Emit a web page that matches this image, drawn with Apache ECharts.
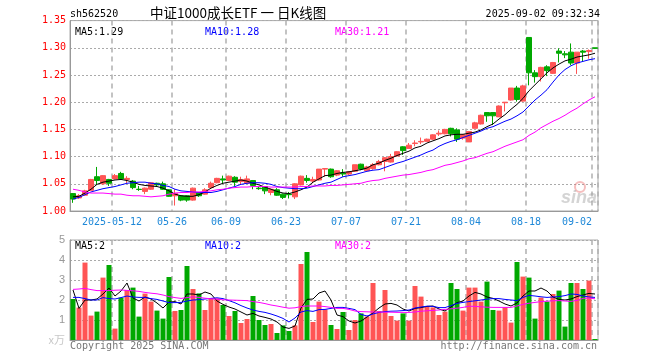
<!DOCTYPE html>
<html><head><meta charset="utf-8">
<script src="https://cdn.jsdelivr.net/npm/echarts@6/dist/echarts.min.js"></script>
<style>html,body{margin:0;padding:0;background:#fff}#c{width:660px;height:360px}</style>
</head><body><div id="c"></div>
<script>
const dates = ['2025-04-28','2025-04-29','2025-04-30','2025-05-06','2025-05-07','2025-05-08','2025-05-09','2025-05-12','2025-05-13','2025-05-14','2025-05-15','2025-05-16','2025-05-19','2025-05-20','2025-05-21','2025-05-22','2025-05-23','2025-05-26','2025-05-27','2025-05-28','2025-05-29','2025-05-30','2025-06-03','2025-06-04','2025-06-05','2025-06-06','2025-06-09','2025-06-10','2025-06-11','2025-06-12','2025-06-13','2025-06-16','2025-06-17','2025-06-18','2025-06-19','2025-06-20','2025-06-23','2025-06-24','2025-06-25','2025-06-26','2025-06-27','2025-06-30','2025-07-01','2025-07-02','2025-07-03','2025-07-04','2025-07-07','2025-07-08','2025-07-09','2025-07-10','2025-07-11','2025-07-14','2025-07-15','2025-07-16','2025-07-17','2025-07-18','2025-07-21','2025-07-22','2025-07-23','2025-07-24','2025-07-25','2025-07-28','2025-07-29','2025-07-30','2025-07-31','2025-08-01','2025-08-04','2025-08-05','2025-08-06','2025-08-07','2025-08-08','2025-08-11','2025-08-12','2025-08-13','2025-08-14','2025-08-15','2025-08-18','2025-08-19','2025-08-20','2025-08-21','2025-08-22','2025-08-25','2025-08-26','2025-08-27','2025-08-28','2025-08-29','2025-09-01','2025-09-02'];

const tickDates = ['2025-05-12','2025-05-26','2025-06-09','2025-06-23','2025-07-07','2025-07-21','2025-08-04','2025-08-18','2025-09-02'];
const tickLabels = ['2025-05-12','05-26','06-09','06-23','07-07','07-21','08-04','08-18','09-02'];

const opens = [1.032,1.024,1.029,1.038,1.063,1.050,1.058,1.059,1.069,1.058,
1.055,1.040,1.036,1.040,1.051,1.050,1.039,1.028,1.028,1.028,
1.020,1.034,1.031,1.043,1.052,1.059,1.056,1.062,1.054,1.051,
1.056,1.042,1.045,1.034,1.039,1.031,1.031,1.026,1.048,1.060,
1.055,1.057,1.077,1.077,1.066,1.070,1.068,1.073,1.086,1.074,
1.078,1.085,1.091,1.090,1.101,1.118,1.115,1.124,1.127,1.128,
1.132,1.1415,1.142,1.152,1.149,1.134,1.127,1.152,1.160,1.181,
1.181,1.173,1.199,1.204,1.226,1.202,1.319,1.254,1.247,1.265,
1.253,1.294,1.289,1.292,1.272,1.294,1.293,1.300];
const closes = [1.022,1.028,1.037,1.058,1.056,1.065,1.051,1.065,1.059,1.060,
1.043,1.0395,1.042,1.052,1.048,1.040,1.027,1.032,1.020,1.020,
1.042,1.028,1.039,1.051,1.060,1.057,1.064,1.053,1.058,1.059,
1.047,1.041,1.037,1.040,1.029,1.025,1.030,1.050,1.064,1.056,
1.058,1.077,1.078,1.063,1.074,1.068,1.072,1.085,1.077,1.081,
1.085,1.091,1.098,1.100,1.109,1.111,1.121,1.125,1.128,1.132,
1.140,1.143,1.150,1.142,1.132,1.140,1.146,1.162,1.176,1.175,
1.175,1.193,1.200,1.226,1.205,1.230,1.254,1.247,1.264,1.258,
1.273,1.290,1.287,1.272,1.292,1.292,1.295,1.299];
const lows = [1.015,1.022,1.028,1.037,1.048,1.048,1.046,1.058,1.057,1.051,
1.040,1.037,1.031,1.039,1.046,1.039,1.026,1.010,1.018,1.017,
1.019,1.026,1.030,1.042,1.051,1.051,1.055,1.046,1.048,1.050,
1.040,1.039,1.031,1.029,1.028,1.022,1.023,1.022,1.047,1.052,
1.051,1.056,1.063,1.061,1.064,1.063,1.066,1.072,1.075,1.074,
1.076,1.084,1.073,1.089,1.100,1.103,1.115,1.119,1.123,1.128,
1.131,1.138,1.141,1.137,1.127,1.131,1.127,1.152,1.159,1.164,
1.158,1.173,1.183,1.203,1.201,1.201,1.231,1.236,1.238,1.248,
1.252,1.273,1.281,1.268,1.252,1.274,1.280,1.298];
const highs = [1.033,1.031,1.039,1.059,1.081,1.066,1.059,1.068,1.072,1.064,
1.057,1.046,1.043,1.053,1.052,1.054,1.040,1.040,1.029,1.029,
1.043,1.035,1.042,1.054,1.061,1.065,1.065,1.064,1.063,1.065,
1.057,1.045,1.046,1.041,1.042,1.032,1.035,1.051,1.065,1.066,
1.063,1.077,1.079,1.078,1.075,1.077,1.073,1.085,1.087,1.083,
1.088,1.094,1.099,1.105,1.110,1.119,1.125,1.130,1.135,1.133,
1.141,1.148,1.151,1.153,1.152,1.141,1.147,1.164,1.177,1.181,
1.181,1.194,1.200,1.226,1.230,1.232,1.319,1.259,1.265,1.268,
1.274,1.299,1.294,1.308,1.292,1.296,1.297,1.300];

const ma5 = [1.026,1.027,1.033,1.040,1.049,1.053,1.055,1.057,1.058,1.056,
1.053,1.049,1.047,1.046,1.045,1.042,1.037,1.031,1.028,1.027,
1.027,1.030,1.035,1.042,1.047,1.051,1.053,1.055,1.057,1.055,
1.051,1.048,1.044,1.040,1.036,1.033,1.032,1.035,1.039,1.044,
1.053,1.059,1.065,1.066,1.069,1.071,1.072,1.074,1.076,1.079,
1.085,1.088,1.093,1.097,1.102,1.106,1.110,1.116,1.119,1.125,
1.129,1.133,1.138,1.140,1.141,1.141,1.143,1.145,1.149,1.155,
1.160,1.169,1.177,1.187,1.196,1.207,1.221,1.232,1.243,1.254,
1.263,1.270,1.276,1.279,1.283,1.285,1.287,1.290];
const ma10 = [1.022,1.025,1.030,1.035,1.038,1.041,1.043,1.045,1.048,1.051,
1.052,1.053,1.053,1.051,1.050,1.047,1.045,1.040,1.037,1.036,
1.035,1.034,1.034,1.034,1.036,1.039,1.042,1.045,1.049,1.051,
1.052,1.052,1.051,1.049,1.045,1.043,1.042,1.041,1.041,1.042,
1.045,1.048,1.051,1.053,1.058,1.063,1.065,1.067,1.070,1.073,
1.075,1.076,1.080,1.084,1.088,1.091,1.095,1.099,1.103,1.108,
1.112,1.119,1.124,1.128,1.131,1.135,1.139,1.143,1.147,1.152,
1.155,1.160,1.165,1.169,1.175,1.182,1.193,1.204,1.213,1.223,
1.237,1.250,1.260,1.267,1.272,1.275,1.278,1.280];
const ma30 = [1.040,1.038,1.035,1.033,1.033,1.033,1.032,1.031,1.031,1.029,
1.028,1.028,1.027,1.026,1.027,1.028,1.031,1.033,1.034,1.034,
1.035,1.035,1.036,1.037,1.039,1.040,1.042,1.043,1.044,1.044,
1.045,1.045,1.045,1.044,1.044,1.044,1.044,1.044,1.045,1.045,
1.046,1.046,1.046,1.047,1.047,1.048,1.049,1.050,1.051,1.054,
1.056,1.057,1.060,1.062,1.064,1.066,1.067,1.069,1.071,1.074,
1.076,1.080,1.084,1.086,1.089,1.092,1.096,1.098,1.102,1.106,
1.109,1.114,1.119,1.123,1.127,1.131,1.139,1.145,1.153,1.159,
1.165,1.170,1.176,1.183,1.189,1.197,1.204,1.210];

const volumes = [2.05,1.62,3.87,1.22,1.42,3.12,3.75,0.57,2.12,2.50,
2.62,1.17,2.32,1.92,1.47,1.07,3.15,1.45,1.50,3.70,
2.55,2.33,1.50,2.08,2.08,1.75,1.20,1.45,0.85,1.05,
2.20,1.00,0.75,0.80,0.35,0.73,0.45,0.73,3.80,4.40,
0.90,1.92,1.53,0.75,0.55,1.40,0.50,1.00,1.33,1.17,
2.85,1.45,2.50,1.20,0.97,1.33,0.97,2.70,2.17,1.67,
1.63,1.25,1.42,2.85,2.55,1.47,2.62,2.62,1.92,2.92,
1.50,1.47,1.63,0.87,3.90,3.17,3.12,1.07,2.12,1.92,
2.30,2.47,0.67,2.85,2.85,2.55,2.97,0.05];
const volMa5 = [2.50,1.58,2.00,2.00,2.05,2.30,2.60,2.20,2.45,2.85,
2.10,1.95,2.15,2.05,1.85,1.60,1.90,1.92,1.80,2.30,
2.30,2.25,2.40,2.30,1.95,1.78,1.65,1.55,1.40,1.25,
1.33,1.20,1.13,1.05,0.90,0.65,0.58,0.70,1.60,2.03,
2.05,2.35,2.45,2.00,1.25,1.17,0.95,0.85,0.95,1.15,
1.35,1.60,1.80,1.83,1.75,1.55,1.45,1.58,1.62,1.68,
1.70,1.55,1.45,1.65,1.87,1.95,2.20,2.38,2.30,2.15,
2.08,1.95,1.80,1.70,1.85,2.20,2.45,2.45,2.60,2.45,
2.15,2.03,2.00,2.05,2.17,2.25,2.33,2.30];
const volMa10 = [2.13,2.13,2.07,2.00,2.00,2.12,2.07,2.05,2.12,2.20,
2.15,2.13,2.13,2.07,2.03,1.95,1.87,1.87,1.88,1.95,
2.00,2.02,2.05,2.08,2.11,2.07,1.97,1.86,1.72,1.60,
1.50,1.43,1.38,1.30,1.20,1.08,0.90,1.10,1.40,1.47,
1.43,1.52,1.53,1.58,1.63,1.63,1.58,1.52,1.28,1.20,
1.30,1.38,1.42,1.44,1.45,1.47,1.50,1.60,1.65,1.69,
1.68,1.62,1.62,1.72,1.83,1.88,1.92,1.96,2.00,2.04,
2.07,2.07,2.03,2.00,1.97,2.13,2.23,2.20,2.16,2.13,
2.15,2.17,2.22,2.30,2.28,2.20,2.15,2.13];
const volMa30 = [2.53,2.55,2.58,2.52,2.47,2.47,2.47,2.49,2.50,2.48,
2.46,2.43,2.38,2.34,2.31,2.25,2.17,2.12,2.08,2.12,
2.16,2.13,2.09,2.06,2.04,2.01,2.00,1.99,1.98,1.97,
1.92,1.88,1.82,1.75,1.70,1.64,1.59,1.61,1.67,1.70,
1.70,1.70,1.67,1.63,1.58,1.58,1.53,1.45,1.42,1.41,
1.40,1.40,1.39,1.39,1.38,1.38,1.38,1.40,1.44,1.46,
1.48,1.50,1.53,1.56,1.59,1.63,1.69,1.68,1.66,1.64,
1.63,1.63,1.63,1.63,1.70,1.78,1.84,1.88,1.92,1.94,
1.96,1.97,1.95,1.93,1.98,2.08,2.10,2.06];

const UP = '#ff5555', DOWN = '#00a800';
const MONO = '"DejaVu Sans Mono", "Liberation Mono", monospace';

const candleData = dates.map((d, i) => [opens[i], closes[i], lows[i], highs[i]]);
const volData = volumes.map((v, i) => ({ value: v, itemStyle: { color: closes[i] >= opens[i] ? UP : DOWN } }));
const tickSet = new Set(tickDates);
const tickIdx = dates.map((d, i) => tickSet.has(d) ? i : -1).filter(i => i >= 0);

const chart = echarts.init(document.getElementById('c'), null, { renderer: 'canvas', width: 660, height: 360 });

function lineS(name, data, color, xi, yi) {
  return { name, type: 'line', data, xAxisIndex: xi, yAxisIndex: yi, symbol: 'none', smooth: false,
    lineStyle: { color, width: 1 }, itemStyle: { color }, animation: false, z: 5 };
}

const vDash = { show: true, interval: (i) => tickIdx.includes(i), lineStyle: { color: '#b0b0b0', width: 1.5, type: [5, 4] } };
const hDot = { show: true, lineStyle: { color: '#aaaaaa', width: 1, type: [2, 2] } };

const option = {
  animation: false,
  backgroundColor: '#fff',
  grid: [
    { left: 70, right: 62, top: 20.6, height: 190.4, show: true, borderColor: '#aaaaaa', borderWidth: 1 },
    { left: 70, right: 62, top: 240, height: 100, show: true, borderColor: '#aaaaaa', borderWidth: 1 }
  ],
  xAxis: [
    { type: 'category', data: dates, gridIndex: 0, boundaryGap: true,
      axisLine: { show: true, lineStyle: { color: '#999' } }, axisTick: { show: false },
      axisLabel: { interval: (i) => tickIdx.includes(i), margin: 6, color: '#1e88d8', fontFamily: MONO, fontSize: 10,
        formatter: (v) => { const k = tickDates.indexOf(v); const t = tickLabels[k]; return k === tickDates.length - 1 ? '{e|' + t + '}' : '{n|' + t + '}'; },
        rich: { n: { padding: [0, 6, 0, 0], color: '#1e88d8', fontFamily: MONO, fontSize: 10 }, e: { padding: [0, 36, 0, 0], color: '#1e88d8', fontFamily: MONO, fontSize: 10 } } },
      splitLine: vDash },
    { type: 'category', data: dates, gridIndex: 1, boundaryGap: true,
      axisLine: { show: true, lineStyle: { color: '#999' } }, axisTick: { show: false }, axisLabel: { show: false },
      splitLine: vDash }
  ],
  yAxis: [
    { type: 'value', gridIndex: 0, min: 1.00, max: 1.35, interval: 0.05, scale: false,
      axisLine: { show: true, lineStyle: { color: '#999' } }, axisTick: { show: false },
      axisLabel: { color: '#ff0000', fontFamily: MONO, fontSize: 10, margin: 4, formatter: (v) => v.toFixed(2) },
      splitLine: hDot },
    { type: 'value', gridIndex: 1, min: 0, max: 5, interval: 1,
      axisLine: { show: true, lineStyle: { color: '#999' } }, axisTick: { show: false },
      axisLabel: { color: '#999', fontFamily: '"Liberation Sans", Arial, sans-serif', fontSize: 11, margin: 5,
        formatter: (v) => v === 0 ? '{u|x万}' : String(v), rich: { u: { color: '#c8c8c8', fontSize: 11, fontFamily: '"Noto Sans CJK SC", sans-serif' } } },
      splitLine: hDot }
  ],
  series: [
    { name: 'K', type: 'candlestick', data: candleData, xAxisIndex: 0, yAxisIndex: 0, barWidth: 5,
      itemStyle: { color: UP, color0: DOWN, borderColor: UP, borderColor0: DOWN, borderWidth: 1 }, z: 4 },
    lineS('MA5', ma5, '#000000', 0, 0),
    lineS('MA10', ma10, '#0000ff', 0, 0),
    lineS('MA30', ma30, '#ff00ff', 0, 0),
    { name: 'VOL', type: 'bar', data: volData, xAxisIndex: 1, yAxisIndex: 1, barWidth: 5, z: 3 },
    lineS('VMA5', volMa5, '#000000', 1, 1),
    lineS('VMA10', volMa10, '#0000ff', 1, 1),
    lineS('VMA30', volMa30, '#ff00ff', 1, 1)
  ],
  graphic: [
    { type: 'text', left: 70, top: 9, style: { text: 'sh562520', font: '10px ' + MONO, fill: '#000' } },
    { type: 'text', left: 150, top: 6, style: { text: '中证1000成长ETF 一 日K线图', font: '13.5px "Noto Sans CJK SC", sans-serif', fill: '#000' } },
    { type: 'text', right: 60, top: 9, style: { text: '2025-09-02 09:32:34', font: '10px ' + MONO, fill: '#000' } },
    { type: 'text', left: 75, top: 27, style: { text: 'MA5:1.29', font: '10px ' + MONO, fill: '#000' } },
    { type: 'text', left: 205, top: 27, style: { text: 'MA10:1.28', font: '10px ' + MONO, fill: '#0000ff' } },
    { type: 'text', left: 335, top: 27, style: { text: 'MA30:1.21', font: '10px ' + MONO, fill: '#ff00ff' } },
    { type: 'text', left: 75, top: 241, style: { text: 'MA5:2', font: '10px ' + MONO, fill: '#000' } },
    { type: 'text', left: 205, top: 241, style: { text: 'MA10:2', font: '10px ' + MONO, fill: '#0000ff' } },
    { type: 'text', left: 335, top: 241, style: { text: 'MA30:2', font: '10px ' + MONO, fill: '#ff00ff' } },
    { type: 'text', left: 70, top: 341, style: { text: 'Copyright 2025 SINA.COM', font: '10px ' + MONO, fill: '#777' } },
    { type: 'text', right: 63, top: 341, style: { text: 'http://finance.sina.com.cn', font: '10px ' + MONO, fill: '#777' } },
    { type: 'circle', shape: { cx: 580, cy: 187, r: 5 }, style: { fill: 'none', stroke: 'rgba(235,110,110,0.45)', lineWidth: 2 }, z: 1 },
    { type: 'text', left: 561, top: 189, style: { text: 'sina', font: 'italic bold 18px "Liberation Sans", sans-serif', fill: 'rgba(160,160,160,0.45)' }, z: 1 }
  ]
};
chart.setOption(option);
</script></body></html>
